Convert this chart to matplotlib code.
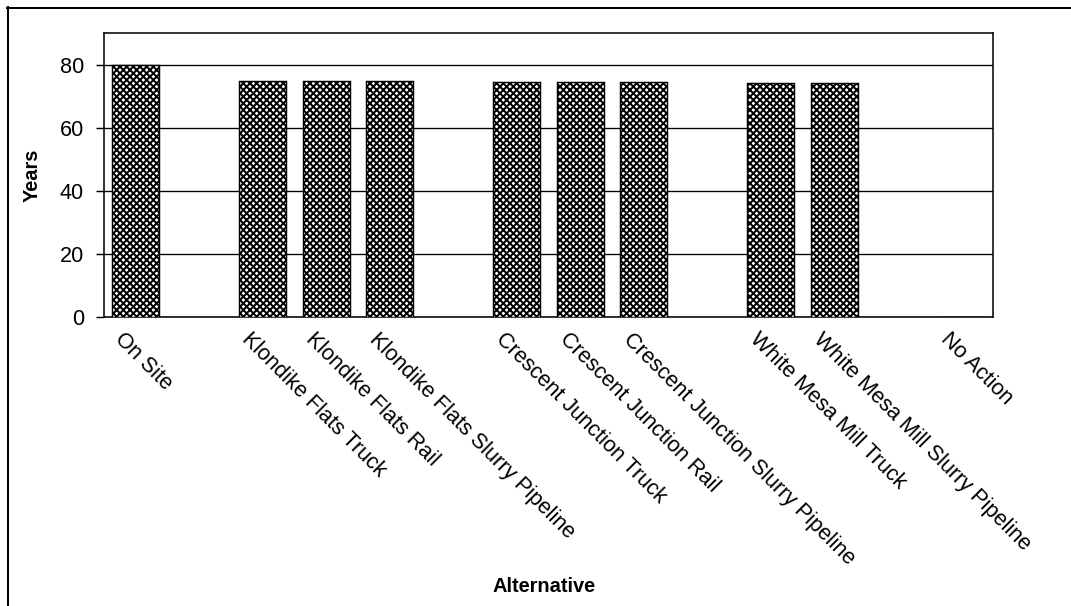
import matplotlib
matplotlib.use("Agg")
import matplotlib.pyplot as plt
import matplotlib.transforms as mtransforms
from matplotlib.lines import Line2D

# alternatives along the x axis; blank entries are the spacers between groups
alternatives = ["On Site", "",
                "Klondike Flats Truck", "Klondike Flats Rail", "Klondike Flats Slurry Pipeline", "",
                "Crescent Junction Truck", "Crescent Junction Rail", "Crescent Junction Slurry Pipeline", "",
                "White Mesa Mill Truck", "White Mesa Mill Slurry Pipeline", "",
                "No Action"]
# years for each alternative (None = spacer)
years = [80, None,
         74.7, 74.7, 74.7, None,
         74.4, 74.4, 74.4, None,
         74.2, 74.2, None,
         0]
yticks = [0, 20, 40, 60, 80]

plt.rcParams['font.family'] = ['Liberation Sans', 'DejaVu Sans']
plt.rcParams['hatch.linewidth'] = 1.8
plt.rcParams['hatch.color'] = 'black'

DPI = 80
fig = plt.figure(figsize=(1071 / DPI, 606 / DPI), dpi=DPI)
ax = fig.add_axes([104 / 1071, 1 - 317 / 606, 889 / 1071, 284 / 606])

xs = [i for i, v in enumerate(years) if v is not None]
hs = [v for v in years if v is not None]
ax.bar(xs, hs, width=0.74, color='white', edgecolor='black',
       linewidth=1.3, hatch='xxxx', zorder=3)

ax.set_xlim(-0.5, len(alternatives) - 0.5)
ax.set_ylim(0, 90)
ax.set_yticks(yticks)
ax.yaxis.grid(True, color='black', linewidth=1.2, zorder=0)
ax.set_axisbelow(True)

for s in ax.spines.values():
    s.set_linewidth(1.4)
    s.set_color('black')

ax.tick_params(axis='y', length=7, width=1.3, pad=11, labelsize=19.5)
ax.tick_params(axis='x', length=0, pad=0)

ax.set_xticks(range(len(alternatives)))
ax.set_xticklabels(alternatives, rotation=-45, ha='left', va='top',
                   rotation_mode='anchor', fontsize=19.5)
shift = mtransforms.ScaledTranslation(-10 / DPI, -12 / DPI, fig.dpi_scale_trans)
for lab in ax.get_xticklabels():
    lab.set_transform(lab.get_transform() + shift)

ax.set_ylabel('Years', fontsize=18, fontweight='bold')
ax.yaxis.set_label_coords(-0.07, 0.5)
ax.set_xlabel('Alternative', fontsize=18, fontweight='bold')
ax.xaxis.set_label_coords(0.495, -0.915)

# outer border lines (top and left)
fig.add_artist(Line2D([7 / 1071, 1], [1 - 8 / 606, 1 - 8 / 606],
                      transform=fig.transFigure, color='black', linewidth=1.8))
fig.add_artist(Line2D([8 / 1071, 8 / 1071], [0, 1 - 7 / 606],
                      transform=fig.transFigure, color='black', linewidth=1.8))

fig.savefig('out.png', dpi=DPI, facecolor='white')
